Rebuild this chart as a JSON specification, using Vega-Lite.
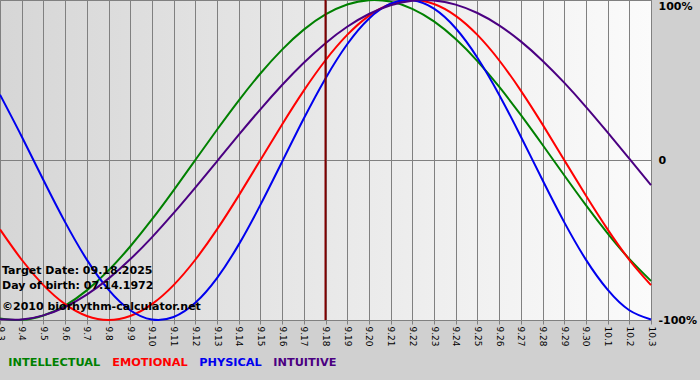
{
  "$schema": "https://vega.github.io/schema/vega-lite/v6.json",
  "width": 651,
  "height": 320,
  "autosize": {"type": "none"},
  "padding": {"left": 0, "top": 0, "right": 49, "bottom": 60},
  "background": "#d0d0d0",
  "view": {
    "stroke": "#808080",
    "fill": {"gradient": "linear", "x1": 0, "y1": 0, "x2": 1, "y2": 0,
      "stops": [{"offset": 0, "color": "#d6d6d6"}, {"offset": 1, "color": "#fbfbfb"}]}
  },
  "config": {"font": "DejaVu Sans"},
  "datasets": {
    "bio": [
      {"d": "9.3", "INTELLECTUAL": -0.9898, "EMOTIONAL": -0.4339, "PHYSICAL": 0.4084, "INTUITIVE": -0.9958},
      {"d": "9.4", "INTELLECTUAL": -0.9989, "EMOTIONAL": -0.6235, "PHYSICAL": 0.1470, "INTUITIVE": -0.9973},
      {"d": "9.5", "INTELLECTUAL": -0.9718, "EMOTIONAL": -0.7818, "PHYSICAL": -0.1253, "INTUITIVE": -0.9713},
      {"d": "9.6", "INTELLECTUAL": -0.9096, "EMOTIONAL": -0.9010, "PHYSICAL": -0.3884, "INTUITIVE": -0.9189},
      {"d": "9.7", "INTELLECTUAL": -0.8149, "EMOTIONAL": -0.9749, "PHYSICAL": -0.6226, "INTUITIVE": -0.8417},
      {"d": "9.8", "INTELLECTUAL": -0.6901, "EMOTIONAL": -1.0, "PHYSICAL": -0.8105, "INTUITIVE": -0.7413},
      {"d": "9.9", "INTELLECTUAL": -0.5406, "EMOTIONAL": -0.9749, "PHYSICAL": -0.9389, "INTUITIVE": -0.6207},
      {"d": "9.10", "INTELLECTUAL": -0.3717, "EMOTIONAL": -0.9010, "PHYSICAL": -0.9968, "INTUITIVE": -0.4832},
      {"d": "9.11", "INTELLECTUAL": -0.1893, "EMOTIONAL": -0.7818, "PHYSICAL": -0.9813, "INTUITIVE": -0.3325},
      {"d": "9.12", "INTELLECTUAL": 0.0, "EMOTIONAL": -0.6235, "PHYSICAL": -0.8927, "INTUITIVE": -0.1727},
      {"d": "9.13", "INTELLECTUAL": 0.1892, "EMOTIONAL": -0.4339, "PHYSICAL": -0.7382, "INTUITIVE": -0.0083},
      {"d": "9.14", "INTELLECTUAL": 0.3717, "EMOTIONAL": -0.2225, "PHYSICAL": -0.5289, "INTUITIVE": 0.1564},
      {"d": "9.15", "INTELLECTUAL": 0.5406, "EMOTIONAL": 0.0, "PHYSICAL": -0.2803, "INTUITIVE": 0.3169},
      {"d": "9.16", "INTELLECTUAL": 0.6901, "EMOTIONAL": 0.2225, "PHYSICAL": -0.0110, "INTUITIVE": 0.4686},
      {"d": "9.17", "INTELLECTUAL": 0.8149, "EMOTIONAL": 0.4339, "PHYSICAL": 0.2592, "INTUITIVE": 0.6077},
      {"d": "9.18", "INTELLECTUAL": 0.9096, "EMOTIONAL": 0.6235, "PHYSICAL": 0.5101, "INTUITIVE": 0.7302},
      {"d": "9.19", "INTELLECTUAL": 0.9718, "EMOTIONAL": 0.7818, "PHYSICAL": 0.7234, "INTUITIVE": 0.8327},
      {"d": "9.20", "INTELLECTUAL": 0.9989, "EMOTIONAL": 0.9010, "PHYSICAL": 0.8829, "INTUITIVE": 0.9124},
      {"d": "9.21", "INTELLECTUAL": 0.9898, "EMOTIONAL": 0.9749, "PHYSICAL": 0.9769, "INTUITIVE": 0.9673},
      {"d": "9.22", "INTELLECTUAL": 0.9450, "EMOTIONAL": 1.0, "PHYSICAL": 0.9983, "INTUITIVE": 0.9958},
      {"d": "9.23", "INTELLECTUAL": 0.8660, "EMOTIONAL": 0.9749, "PHYSICAL": 0.9458, "INTUITIVE": 0.9973},
      {"d": "9.24", "INTELLECTUAL": 0.7557, "EMOTIONAL": 0.9010, "PHYSICAL": 0.8233, "INTUITIVE": 0.9713},
      {"d": "9.25", "INTELLECTUAL": 0.6182, "EMOTIONAL": 0.7818, "PHYSICAL": 0.6393, "INTUITIVE": 0.9189},
      {"d": "9.26", "INTELLECTUAL": 0.4582, "EMOTIONAL": 0.6235, "PHYSICAL": 0.4084, "INTUITIVE": 0.8417},
      {"d": "9.27", "INTELLECTUAL": 0.2817, "EMOTIONAL": 0.4339, "PHYSICAL": 0.1470, "INTUITIVE": 0.7413},
      {"d": "9.28", "INTELLECTUAL": 0.0951, "EMOTIONAL": 0.2225, "PHYSICAL": -0.1253, "INTUITIVE": 0.6207},
      {"d": "9.29", "INTELLECTUAL": -0.0951, "EMOTIONAL": 0.0, "PHYSICAL": -0.3884, "INTUITIVE": 0.4832},
      {"d": "9.30", "INTELLECTUAL": -0.2817, "EMOTIONAL": -0.2225, "PHYSICAL": -0.6226, "INTUITIVE": 0.3325},
      {"d": "10.1", "INTELLECTUAL": -0.4582, "EMOTIONAL": -0.4339, "PHYSICAL": -0.8105, "INTUITIVE": 0.1727},
      {"d": "10.2", "INTELLECTUAL": -0.6182, "EMOTIONAL": -0.6235, "PHYSICAL": -0.9389, "INTUITIVE": 0.0083},
      {"d": "10.3", "INTELLECTUAL": -0.7557, "EMOTIONAL": -0.7818, "PHYSICAL": -0.9968, "INTUITIVE": -0.1564}
    ],
    "notes": [
      {"d": "9.3", "v": -0.695, "t": "Target Date: 09.18.2025"},
      {"d": "9.3", "v": -0.79, "t": "Day of birth: 07.14.1972"},
      {"d": "9.3", "v": -0.92, "t": "©2010 biorhythm-calculator.net"}
    ],
    "target": [{"d": "9.18"}]
  },
  "layer": [
    {
      "data": {"name": "bio"},
      "transform": [{"fold": ["INTELLECTUAL", "EMOTIONAL", "PHYSICAL", "INTUITIVE"], "as": ["cycle", "value"]}],
      "mark": {"type": "line", "interpolate": "natural", "strokeWidth": 2},
      "encoding": {
        "x": {
          "field": "d", "type": "ordinal",
          "scale": {"type": "point", "padding": 0, "domain": ["9.3","9.4","9.5","9.6","9.7","9.8","9.9","9.10","9.11","9.12","9.13","9.14","9.15","9.16","9.17","9.18","9.19","9.20","9.21","9.22","9.23","9.24","9.25","9.26","9.27","9.28","9.29","9.30","10.1","10.2","10.3"]},
          "axis": {
            "title": null, "labelAngle": 90, "labelFontSize": 9, "labelColor": "#000000",
            "labelPadding": 2, "tickSize": 4, "tickColor": "#808080", "domainColor": "#808080",
            "grid": true, "gridColor": "#808080", "gridOpacity": 1, "gridWidth": 1
          }
        },
        "y": {
          "field": "value", "type": "quantitative",
          "scale": {"domain": [-1, 1], "nice": false, "zero": false},
          "axis": {
            "orient": "right", "title": null, "values": [-1, 0, 1],
            "labelExpr": "datum.value == 1 ? '100%' : (datum.value == 0 ? '0' : '-100%')",
            "labelFontWeight": "bold", "labelFontSize": 11, "labelColor": "#000000",
            "labelBaseline": {"condition": {"test": "datum.value == 1", "value": "top"}, "value": "middle"},
            "labelPadding": 7, "tickSize": 0, "domain": false,
            "grid": true, "gridColor": "#808080", "gridOpacity": 1, "gridWidth": 1
          }
        },
        "color": {
          "field": "cycle", "type": "nominal",
          "scale": {"domain": ["INTELLECTUAL", "EMOTIONAL", "PHYSICAL", "INTUITIVE"], "range": ["#008000", "#ff0000", "#0000ee", "#4b0082"]},
          "legend": {
            "title": null, "orient": "none", "legendX": -3, "legendY": 357, "direction": "horizontal",
            "padding": 0, "offset": 0,
            "symbolSize": 0, "symbolStrokeWidth": 0, "symbolOpacity": 0, "labelOffset": 0,
            "labelFontWeight": "bold", "labelFontSize": 11.3, "columnPadding": -10,
            "encode": {"labels": {"update": {"fill": {"scale": "color", "field": "value"}}}}
          }
        }
      }
    },
    {
      "data": {"name": "target"},
      "mark": {"type": "rule", "color": "#800000", "strokeWidth": 2},
      "encoding": {
        "x": {"field": "d", "type": "ordinal"}
      }
    },
    {
      "data": {"name": "notes"},
      "mark": {"type": "text", "align": "left", "dx": 2, "fontWeight": "bold", "fontSize": 11, "color": "#000000"},
      "encoding": {
        "x": {"field": "d", "type": "ordinal"},
        "y": {"field": "v", "type": "quantitative"},
        "text": {"field": "t"}
      }
    }
  ]
}
